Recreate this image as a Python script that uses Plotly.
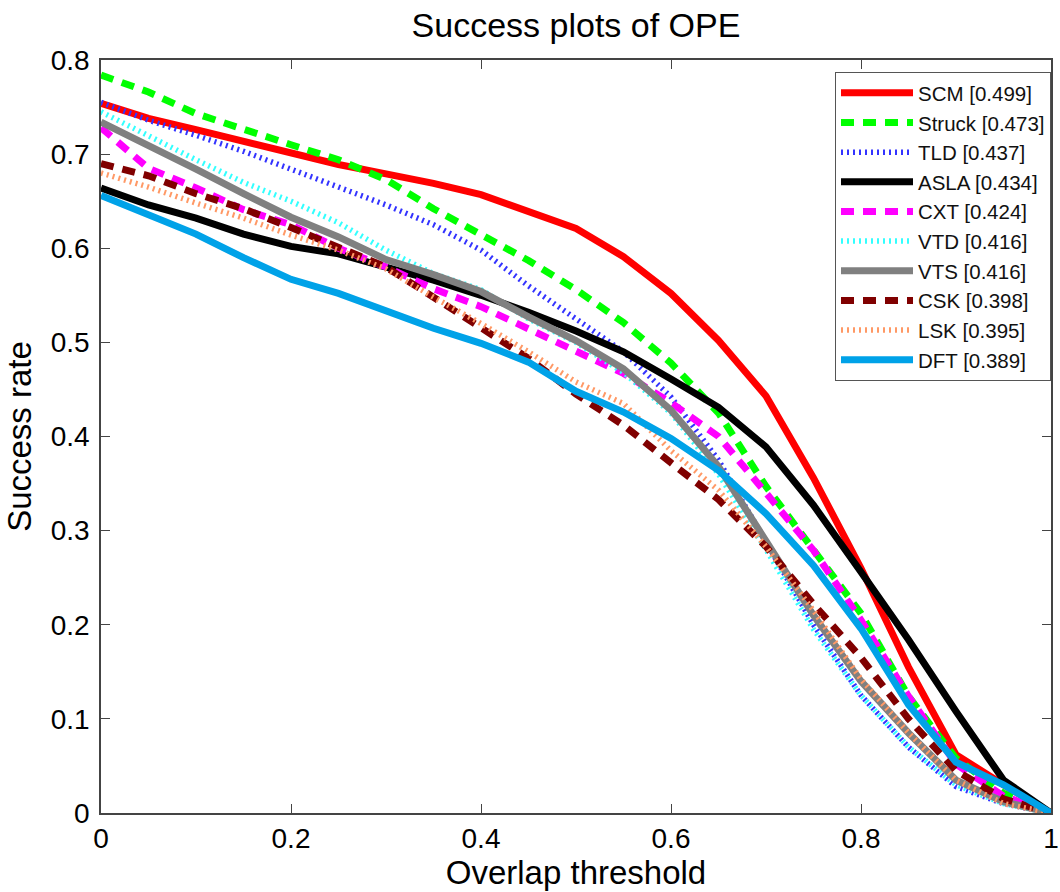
import plotly.graph_objects as go

thresholds = [round(i * 0.05, 2) for i in range(21)]

names = ["SCM [0.499]", "Struck [0.473]", "TLD [0.437]", "ASLA [0.434]", "CXT [0.424]",
         "VTD [0.416]", "VTS [0.416]", "CSK [0.398]", "LSK [0.395]", "DFT [0.389]"]

scm = [0.754, 0.738, 0.726, 0.714, 0.701, 0.689, 0.679, 0.669, 0.657, 0.639, 0.621,
       0.591, 0.552, 0.502, 0.443, 0.356, 0.260, 0.155, 0.062, 0.030, 0.0]
struck = [0.784, 0.766, 0.743, 0.726, 0.710, 0.694, 0.673, 0.642, 0.614, 0.587, 0.556,
          0.521, 0.478, 0.425, 0.347, 0.279, 0.212, 0.124, 0.058, 0.021, 0.0]
tld = [0.755, 0.736, 0.720, 0.703, 0.684, 0.665, 0.646, 0.625, 0.598, 0.560, 0.525,
       0.490, 0.442, 0.375, 0.288, 0.200, 0.125, 0.070, 0.028, 0.010, 0.0]
asla = [0.664, 0.646, 0.632, 0.615, 0.602, 0.594, 0.580, 0.566, 0.550, 0.532, 0.512,
        0.490, 0.461, 0.431, 0.389, 0.327, 0.256, 0.184, 0.108, 0.035, 0.0]
cxt = [0.728, 0.685, 0.664, 0.641, 0.625, 0.600, 0.580, 0.557, 0.538, 0.515, 0.492,
       0.467, 0.436, 0.400, 0.340, 0.279, 0.205, 0.124, 0.052, 0.018, 0.0]
vtd = [0.745, 0.719, 0.694, 0.670, 0.650, 0.627, 0.598, 0.573, 0.556, 0.525, 0.500,
       0.468, 0.425, 0.360, 0.280, 0.195, 0.125, 0.070, 0.030, 0.010, 0.0]
vts = [0.734, 0.710, 0.684, 0.658, 0.633, 0.612, 0.588, 0.572, 0.554, 0.527, 0.502,
       0.472, 0.428, 0.368, 0.290, 0.210, 0.140, 0.085, 0.035, 0.012, 0.0]
csk = [0.690, 0.677, 0.658, 0.642, 0.622, 0.602, 0.580, 0.548, 0.515, 0.483, 0.445,
       0.412, 0.372, 0.333, 0.283, 0.222, 0.165, 0.100, 0.045, 0.015, 0.0]
lsk = [0.680, 0.665, 0.648, 0.632, 0.614, 0.598, 0.578, 0.548, 0.520, 0.490, 0.458,
       0.435, 0.385, 0.343, 0.283, 0.215, 0.142, 0.085, 0.035, 0.010, 0.0]
dft = [0.656, 0.636, 0.615, 0.590, 0.567, 0.552, 0.534, 0.515, 0.499, 0.479, 0.448,
       0.426, 0.398, 0.364, 0.318, 0.263, 0.196, 0.115, 0.054, 0.030, 0.0]

series = [scm, struck, tld, asla, cxt, vtd, vts, csk, lsk, dft]
colors = ["#FF0000", "#00FF00", "#3333FF", "#000000", "#FF00FF",
          "#33FFFF", "#808080", "#800000", "#FF9966", "#00A2E8"]
dashes = ["solid", "13px,9px", "2px,4px", "solid", "13px,9px",
          "2px,4px", "solid", "13px,9px", "2px,4px", "solid"]
widths = [7, 7, 5.5, 7, 7, 5.5, 7, 7, 5.5, 7]

fig = go.Figure()
for name, ys, c, d, w in zip(names, series, colors, dashes, widths):
    fig.add_trace(go.Scatter(x=thresholds, y=ys, mode="lines", name=name,
                             line=dict(color=c, dash=d, width=w)))

font_family = "Liberation Sans, Arial, Helvetica, sans-serif"
fig.update_layout(
    width=1060, height=892,
    margin=dict(l=101, r=9, t=60, b=79, autoexpand=False),
    paper_bgcolor="white", plot_bgcolor="white",
    font=dict(family=font_family, color="black", size=27),
    title=dict(text="Success plots of OPE", x=(101 + 1051) / 2 / 1060, xanchor="center",
               y=1 - 25 / 892, yanchor="middle", font=dict(size=34, color="black")),
    xaxis=dict(range=[0, 1], tickvals=[0, 0.2, 0.4, 0.6, 0.8, 1],
               ticktext=["0", "0.2", "0.4", "0.6", "0.8", "1"],
               ticks="inside", ticklen=9, tickcolor="#444", mirror="ticks",
               showline=True, linecolor="#444", linewidth=1.5, showgrid=False, zeroline=False,
               tickfont=dict(size=28), ticklabeloverflow="allow", automargin=False,
               title=dict(text="Overlap threshold", font=dict(size=33), standoff=4)),
    yaxis=dict(range=[0, 0.8], tickvals=[0, 0.1, 0.2, 0.3, 0.4, 0.5, 0.6, 0.7, 0.8],
               ticktext=["0", "0.1", "0.2", "0.3", "0.4", "0.5", "0.6", "0.7", "0.8"],
               ticks="inside", ticklen=9, tickcolor="#444", mirror="ticks",
               showline=True, linecolor="#444", linewidth=1.5, showgrid=False, zeroline=False,
               tickfont=dict(size=28), ticklabelstandoff=4, automargin=False,
               title=dict(text="Success rate", font=dict(size=33), standoff=9)),
    legend=dict(x=1.0, xanchor="right", y=0.984, yanchor="top",
                bgcolor="white", bordercolor="#555", borderwidth=1,
                font=dict(size=20.5, color="#111"), itemwidth=72,
                tracegroupgap=0),
    showlegend=True,
)

fig.write_html("out.html")
